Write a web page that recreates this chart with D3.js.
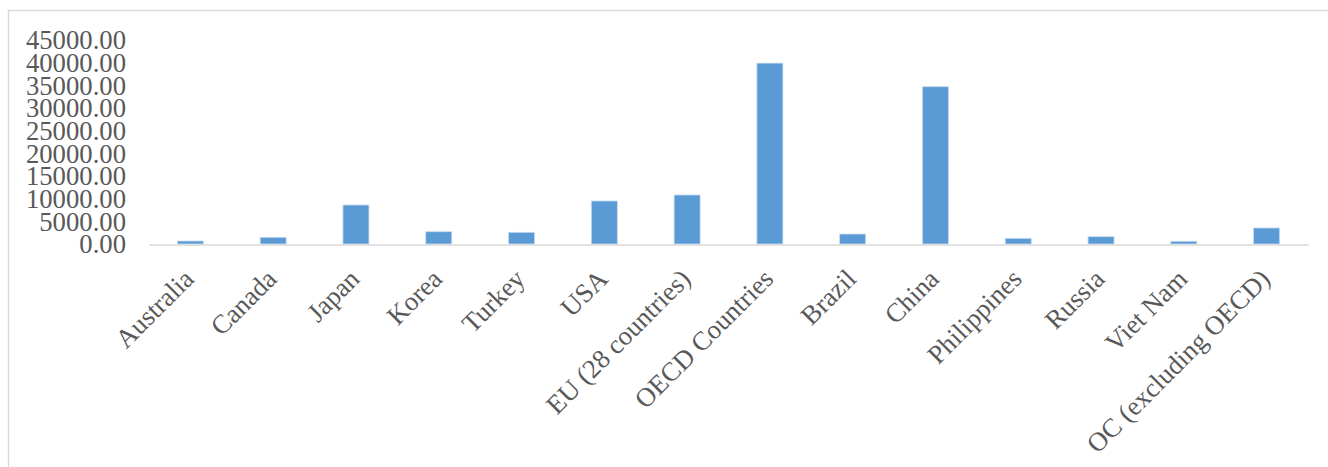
<!DOCTYPE html>
<html>
<head>
<meta charset="utf-8">
<script src="https://cdn.jsdelivr.net/npm/d3@7"></script>
<style>
  html, body { margin: 0; padding: 0; background: #fff; }
  svg { display: block; }
</style>
</head>
<body>
<svg id="chart" width="1328" height="467"></svg>
<script>
const categories = ["Australia", "Canada", "Japan", "Korea", "Turkey", "USA", "EU (28 countries)", "OECD Countries", "Brazil", "China", "Philippines", "Russia", "Viet Nam", "OC (excluding OECD)"];
const values = [660, 1480, 8600, 2710, 2580, 9490, 10810, 39900, 2200, 34700, 1260, 1610, 600, 3530];
const yTicks = [0, 5000, 10000, 15000, 20000, 25000, 30000, 35000, 40000, 45000];

const svg = d3.select("#chart");

// chart frame
svg.append("rect")
  .attr("x", 8.5).attr("y", 10.5)
  .attr("width", 1340).attr("height", 480)
  .attr("fill", "#fff")
  .attr("stroke", "#d9d9d9")
  .attr("stroke-width", 1.5);

const x = d3.scaleBand()
  .domain(categories)
  .range([149, 1308])
  .paddingInner(0.686)
  .paddingOuter(0.343);

const y = d3.scaleLinear()
  .domain([0, 45000])
  .range([244, 40]);

// y axis labels
const yAxis = d3.axisLeft(y)
  .tickValues(yTicks)
  .tickFormat(d3.format(".2f"))
  .tickSize(0)
  .tickPadding(0);

const gy = svg.append("g")
  .attr("transform", "translate(126,0)")
  .call(yAxis);
gy.select(".domain").remove();
gy.selectAll("text")
  .attr("fill", "#595959")
  .attr("font-family", "'Liberation Serif', 'Times New Roman', serif")
  .attr("font-size", "26.7px")
  .attr("dy", "0.33em");

// bars
svg.append("g")
  .selectAll("rect")
  .data(categories)
  .join("rect")
  .attr("x", d => x(d))
  .attr("width", x.bandwidth())
  .attr("y", (d, i) => y(values[i]))
  .attr("height", (d, i) => y(0) - y(values[i]))
  .attr("fill", "#5B9BD5")
  .attr("stroke", "#C5DAF0")
  .attr("stroke-width", 0.8);

// x axis
const xAxis = d3.axisBottom(x).tickSize(0).tickPadding(0);
const gx = svg.append("g")
  .attr("transform", "translate(0,244.5)")
  .call(xAxis);
gx.select(".domain")
  .attr("stroke", "#d9d9d9")
  .attr("stroke-width", 1.5);
gx.selectAll(".tick text")
  .attr("fill", "#595959")
  .attr("font-family", "'Liberation Serif', 'Times New Roman', serif")
  .attr("font-size", "26.7px")
  .attr("text-anchor", "end")
  .attr("dy", 0)
  .attr("y", 0)
  .attr("transform", "translate(5,36) rotate(-45)");
</script>
</body>
</html>
